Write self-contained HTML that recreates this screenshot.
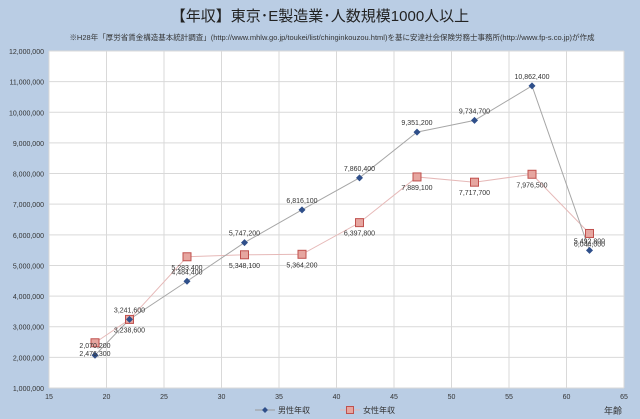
<!DOCTYPE html>
<html><head><meta charset="utf-8"><style>
body{margin:0;background:#b9cde4;}
svg{display:block;font-family:"Liberation Sans","Noto Sans CJK JP",sans-serif;}
</style></head><body>
<svg id="c" width="640" height="419" viewBox="0 0 640 419">
<rect x="0" y="0" width="640" height="419" fill="#bacde4"/>
<text x="320" y="21" text-anchor="middle" font-size="15" fill="#222">【年収】東京･E製造業･人数規模1000人以上</text>
<text x="332" y="40" text-anchor="middle" font-size="7.5" fill="#333">※H28年「厚労省賃金構造基本統計調査」(http://www.mhlw.go.jp/toukei/list/chinginkouzou.html)を基に安達社会保険労務士事務所(http://www.fp-s.co.jp)が作成</text>
<rect x="49" y="51" width="575" height="337" fill="#fff"/>
<g id="grid"></g><g id="series"></g><g id="labels"></g>
<text x="622" y="414" text-anchor="end" font-size="9" fill="#333">年齢</text>
<g>
<line x1="255" y1="410" x2="275" y2="410" stroke="#999"/>
<path d="M265 407 L268 410 L265 413 L262 410Z" fill="#2f4f8a"/>
<text x="278" y="413" font-size="8" fill="#333">男性年収</text>
<line x1="340" y1="410" x2="360" y2="410" stroke="#e6b9b8"/>
<rect x="346.5" y="406.5" width="7" height="7" fill="#e6a6a0" stroke="#c0504d"/>
<text x="363" y="413" font-size="8" fill="#333">女性年収</text>
</g>
</svg>
<script>
const ages=[19,22,27,32,37,42,47,52,57,62];
const male=[2070200,3241600,4484400,5747200,6816100,7860400,9351200,9734700,10862400,5492800];
const female=[2476300,3238600,5283400,5348100,5364200,6397800,7889100,7717700,7976500,6044000];
const yTicks=[1000000,2000000,3000000,4000000,5000000,6000000,7000000,8000000,9000000,10000000,11000000,12000000];
const xTicks=[15,20,25,30,35,40,45,50,55,60,65];
const NS="http://www.w3.org/2000/svg";
const X=v=>49+(v-15)*(575/50);
const Y=v=>388-(v-1000000)*(337/11000000);
const fmt=v=>v.toLocaleString('en-US');
function mk(tag,attrs,parent){const e=document.createElementNS(NS,tag);for(const k in attrs)e.setAttribute(k,attrs[k]);parent.appendChild(e);return e;}
const grid=document.getElementById('grid'),ser=document.getElementById('series'),lab=document.getElementById('labels');
yTicks.forEach(t=>{
 const l=mk('line',{x1:49,x2:624,y1:Y(t),y2:Y(t),stroke:'#d9d9d9'},grid);
 
 
 const tx=mk('text',{x:44,y:Y(t)+3,'text-anchor':'end','font-size':7,fill:'#333'},grid);
 
 
 tx.textContent=fmt(t);
});
xTicks.forEach(t=>{
 const l=mk('line',{x1:X(t),x2:X(t),y1:51,y2:388,stroke:'#d9d9d9'},grid);
 
 
 const tx=mk('text',{x:X(t),y:399,'text-anchor':'middle','font-size':7,fill:'#333'},grid);
 
 
 tx.textContent=t;
});
const fl=mk('polyline',{points:ages.map((a,i)=>X(a)+','+Y(female[i])).join(' '),fill:'none',stroke:'#e6b9b8','stroke-width':1},ser);


const ml=mk('polyline',{points:ages.map((a,i)=>X(a)+','+Y(male[i])).join(' '),fill:'none',stroke:'#a6a6a6','stroke-width':1},ser);


ages.forEach((a,i)=>{
 const x=X(a),yf=Y(female[i]),ym=Y(male[i]);
 const r=mk('rect',{x:x-4,y:yf-4,width:8,height:8,fill:'#e6a6a0',stroke:'#c0504d','stroke-width':1},ser);
 
 
 const d=mk('path',{d:`M${x} ${ym-3.5}L${x+3.5} ${ym}L${x} ${ym+3.5}L${x-3.5} ${ym}Z`,fill:'#2f4f8a'},ser);
 
 
 const t1=mk('text',{x:x,y:ym-7,'text-anchor':'middle','font-size':7,fill:'#333'},lab);
 
 
 t1.textContent=fmt(male[i]);
 const t2=mk('text',{x:x,y:yf+13,'text-anchor':'middle','font-size':7,fill:'#333'},lab);
 
 
 t2.textContent=fmt(female[i]);
});
</script>
</body></html>
